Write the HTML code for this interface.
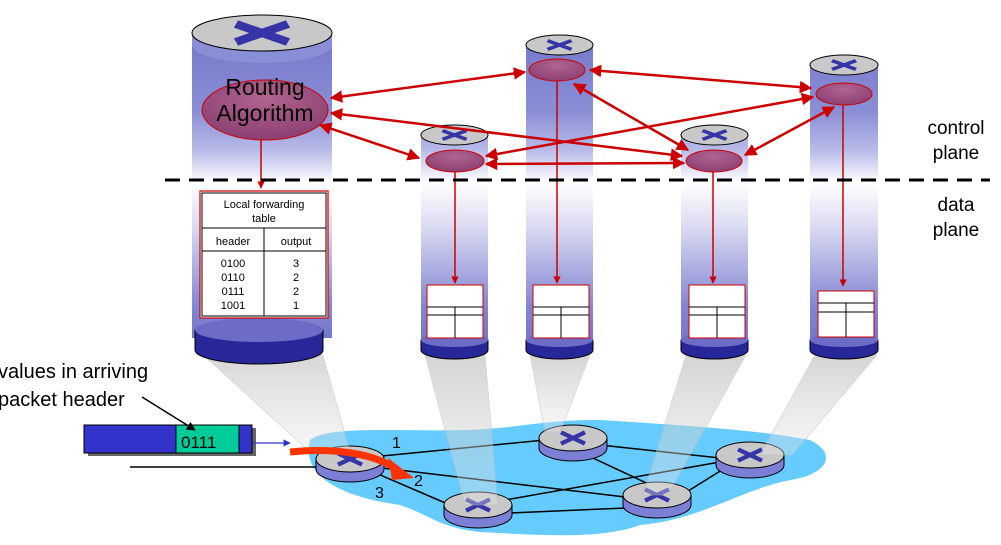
<!DOCTYPE html>
<html><head><meta charset="utf-8"><style>html,body{margin:0;padding:0;background:#fff;width:1001px;height:545px;overflow:hidden}svg{display:block}</style></head><body>
<svg width="1001" height="545" viewBox="0 0 1001 545" xmlns="http://www.w3.org/2000/svg" font-family="Liberation Sans, sans-serif">
<defs>
<linearGradient id="cyl" gradientUnits="userSpaceOnUse" x1="0" y1="30" x2="0" y2="355">
<stop offset="0" stop-color="#7377c9"/><stop offset="0.25" stop-color="#8a8ed6"/><stop offset="0.37" stop-color="#b8bbe8"/><stop offset="0.47" stop-color="#ffffff"/><stop offset="0.6" stop-color="#dcdcf2"/><stop offset="0.85" stop-color="#8386d2"/><stop offset="1" stop-color="#6e70c4"/>
</linearGradient>
<linearGradient id="cone" x1="0" y1="0" x2="0" y2="1"><stop offset="0" stop-color="#b8b8b8"/><stop offset="1" stop-color="#e8e8e8" stop-opacity="0.6"/></linearGradient>
<radialGradient id="red" cx="0.5" cy="0.3" r="0.7"><stop offset="0" stop-color="#b0648f"/><stop offset="1" stop-color="#8c3f73"/></radialGradient>
<marker id="ah" viewBox="0 0 10 10" refX="9" refY="5" markerWidth="5" markerHeight="5" orient="auto-start-reverse"><path d="M0,0L10,5L0,10z" fill="#cc0000"/></marker>
<marker id="bh" viewBox="0 0 10 10" refX="9" refY="5" markerWidth="6" markerHeight="6" orient="auto"><path d="M0,0L10,5L0,10z" fill="#3333cc"/></marker>
<marker id="kh" viewBox="0 0 10 10" refX="9" refY="5" markerWidth="6" markerHeight="6" orient="auto"><path d="M0,0L10,5L0,10z" fill="#000"/></marker>
<g id="x"><path d="M-16,-8 L16,8 M16,-8 L-16,8" stroke="#3535a8" stroke-width="6"/></g>
</defs>

<!-- cloud -->
<path d="M310,440 C330,425 400,432 470,430 C520,428 540,420 600,420 C680,425 760,430 810,440 C840,455 825,475 790,480 C740,490 700,520 640,525 C600,540 540,535 480,532 C440,528 430,515 400,505 C350,498 300,480 310,440Z" fill="#66ccff"/>

<!-- links -->
<g stroke="#000" stroke-width="1.5">
<line x1="130" y1="467" x2="318" y2="467"/>
<line x1="382" y1="456" x2="545" y2="440"/>
<line x1="382" y1="468" x2="625" y2="497"/>
<line x1="378" y1="474" x2="450" y2="505"/>
<line x1="600" y1="445" x2="720" y2="458"/>
<line x1="580" y1="452" x2="655" y2="487"/>
<line x1="505" y1="500" x2="720" y2="462"/>
<line x1="510" y1="513" x2="625" y2="508"/>
<line x1="685" y1="493" x2="725" y2="468"/>
</g>

<!-- network routers -->
<g transform="translate(350,459)"><path d="M-34,0 v10 a34,13 0 0 0 68,0 v-10z" fill="#7b7fd6" stroke="#000"/><ellipse rx="34" ry="13" fill="#c8c8c8" stroke="#000"/><g transform="scale(0.75,0.7)"><use href="#x"/></g></g>
<g transform="translate(573,438)"><path d="M-34,0 v10 a34,13 0 0 0 68,0 v-10z" fill="#7b7fd6" stroke="#000"/><ellipse rx="34" ry="13" fill="#c8c8c8" stroke="#000"/><g transform="scale(0.75,0.7)"><use href="#x"/></g></g>
<g transform="translate(750,455)"><path d="M-34,0 v10 a34,13 0 0 0 68,0 v-10z" fill="#7b7fd6" stroke="#000"/><ellipse rx="34" ry="13" fill="#c8c8c8" stroke="#000"/><g transform="scale(0.75,0.7)"><use href="#x"/></g></g>
<g transform="translate(478,505)"><path d="M-34,0 v10 a34,13 0 0 0 68,0 v-10z" fill="#7b7fd6" stroke="#000"/><ellipse rx="34" ry="13" fill="#c8c8c8" stroke="#000"/><g transform="scale(0.75,0.7)"><use href="#x"/></g></g>
<g transform="translate(657,495)"><path d="M-34,0 v10 a34,13 0 0 0 68,0 v-10z" fill="#7b7fd6" stroke="#000"/><ellipse rx="34" ry="13" fill="#c8c8c8" stroke="#000"/><g transform="scale(0.75,0.7)"><use href="#x"/></g></g>

<!-- cones (semi-transparent over routers) -->
<g fill="url(#cone)" opacity="0.6" stroke="#bbb" stroke-width="0.8">
<polygon points="200,352 322,352 350,452 310,452"/>
<polygon points="425,355 485,355 498,505 465,505"/>
<polygon points="530,355 590,355 560,432 545,432"/>
<polygon points="686,355 746,355 668,495 643,495"/>
<polygon points="815,355 877,355 792,455 760,455"/>
</g>

<!-- red flow arrow -->
<path d="M290,452 C330,448 370,452 395,468" stroke="#ff3300" stroke-width="7" fill="none"/>
<polygon points="388,458 414,478 392,480" fill="#ff3300"/>
<text x="392" y="448" font-size="16">1</text>
<text x="414" y="486" font-size="16">2</text>
<text x="375" y="498" font-size="16">3</text>

<!-- packet -->
<rect x="88" y="428" width="168" height="28" fill="#666"/>
<rect x="84" y="425" width="168" height="28" fill="#3333cc" stroke="#000"/>
<rect x="176" y="425" width="63" height="28" fill="#00cc99" stroke="#000"/>
<text x="181" y="448" font-size="17">0111</text>
<line x1="253" y1="443" x2="290" y2="443" stroke="#3333cc" stroke-width="1.2" marker-end="url(#bh)"/>
<text x="-2" y="378" font-size="20">values in arriving</text>
<text x="-2" y="406" font-size="20">packet header</text>
<line x1="142" y1="397" x2="195" y2="430" stroke="#000" stroke-width="1.5" marker-end="url(#kh)"/>

<!-- big cylinder -->
<rect x="192" y="33" width="140" height="305" fill="url(#cyl)"/>
<path d="M195,330 v20 a64,14 0 0 0 128,0 v-20z" fill="#27279a" stroke="#000"/>
<ellipse cx="259" cy="330" rx="64" ry="12" fill="#6c6cc6"/>
<path d="M192,33 v12 a70,18 0 0 0 140,0 v-12z" fill="#8a8ed6"/>
<ellipse cx="262" cy="33" rx="70" ry="18" fill="#c8c8c8" stroke="#000"/>
<g transform="translate(262,33) scale(1.3,1)"><path d="M-20,-9 L20,9 M20,-9 L-20,9" stroke="#3535a8" stroke-width="8"/></g>
<ellipse cx="265" cy="110" rx="63" ry="30" fill="url(#red)" stroke="#cc0000"/>
<text x="265" y="95" font-size="23" text-anchor="middle">Routing</text>
<text x="265" y="121" font-size="23" text-anchor="middle">Algorithm</text>
<line x1="261" y1="140" x2="261" y2="188" stroke="#cc0000" stroke-width="1.5" marker-end="url(#ah)"/>
<rect x="200" y="191" width="128" height="127" fill="#fff" stroke="#cc0000" stroke-width="1.2"/>
<rect x="202" y="193" width="124" height="123" fill="none" stroke="#000"/>
<line x1="202" y1="228" x2="326" y2="228" stroke="#000"/>
<line x1="202" y1="251" x2="326" y2="251" stroke="#000"/>
<line x1="264" y1="228" x2="264" y2="316" stroke="#000"/>
<g font-size="11" text-anchor="middle">
<text x="264" y="208">Local forwarding</text><text x="264" y="222">table</text>
<text x="233" y="245">header</text><text x="296" y="245">output</text>
<text x="233" y="267">0100</text><text x="296" y="267">3</text>
<text x="233" y="281">0110</text><text x="296" y="281">2</text>
<text x="233" y="295">0111</text><text x="296" y="295">2</text>
<text x="233" y="309">1001</text><text x="296" y="309">1</text>
</g>

<!-- small cylinders -->
<g>
<rect x="421" y="135" width="67" height="210" fill="url(#cyl)"/>
<path d="M421,340 v10 a33.5,9 0 0 0 67,0 v-10z" fill="#27279a" stroke="#000"/>
<ellipse cx="454.5" cy="340" rx="33.5" ry="7" fill="#6c6cc6"/>
<ellipse cx="454.5" cy="135" rx="33.5" ry="10" fill="#c8c8c8" stroke="#000"/>
<g transform="translate(454.5,135) scale(0.75,0.55)"><use href="#x"/></g>
</g>
<g>
<rect x="526" y="45" width="67" height="300" fill="url(#cyl)"/>
<path d="M526,340 v10 a33.5,9 0 0 0 67,0 v-10z" fill="#27279a" stroke="#000"/>
<ellipse cx="559.5" cy="340" rx="33.5" ry="7" fill="#6c6cc6"/>
<ellipse cx="559.5" cy="45" rx="33.5" ry="10" fill="#c8c8c8" stroke="#000"/>
<g transform="translate(559.5,45) scale(0.75,0.55)"><use href="#x"/></g>
</g>
<g>
<rect x="681" y="135" width="67" height="210" fill="url(#cyl)"/>
<path d="M681,340 v10 a33.5,9 0 0 0 67,0 v-10z" fill="#27279a" stroke="#000"/>
<ellipse cx="714.5" cy="340" rx="33.5" ry="7" fill="#6c6cc6"/>
<ellipse cx="714.5" cy="135" rx="33.5" ry="10" fill="#c8c8c8" stroke="#000"/>
<g transform="translate(714.5,135) scale(0.75,0.55)"><use href="#x"/></g>
</g>
<g>
<rect x="810" y="65" width="68" height="280" fill="url(#cyl)"/>
<path d="M810,340 v10 a34,9 0 0 0 68,0 v-10z" fill="#27279a" stroke="#000"/>
<ellipse cx="844" cy="340" rx="34" ry="7" fill="#6c6cc6"/>
<ellipse cx="844" cy="65" rx="34" ry="10" fill="#c8c8c8" stroke="#000"/>
<g transform="translate(844,65) scale(0.75,0.55)"><use href="#x"/></g>
</g>

<!-- red ellipses -->
<g fill="url(#red)" stroke="#cc0000">
<ellipse cx="455" cy="161" rx="29" ry="11"/>
<ellipse cx="557" cy="70" rx="28" ry="11"/>
<ellipse cx="714" cy="161" rx="28" ry="11"/>
<ellipse cx="844" cy="94" rx="28" ry="11"/>
</g>
<!-- small tables -->
<g fill="#fff" stroke="#cc0000">
<rect x="427" y="285" width="56" height="53"/>
<rect x="533" y="285" width="56" height="53"/>
<rect x="689" y="285" width="56" height="53"/>
<rect x="818" y="291" width="56" height="46"/>
</g>
<g stroke="#000">
<path d="M427,307h56M427,315h56M455,307v31"/>
<path d="M533,307h56M533,315h56M561,307v31"/>
<path d="M689,307h56M689,315h56M717,307v31"/>
<path d="M818,303h56M818,312h56M846,303v34"/>
</g>
<g stroke="#cc0000" stroke-width="1.5" marker-end="url(#ah)">
<line x1="455" y1="172" x2="455" y2="283"/>
<line x1="557" y1="81" x2="557" y2="283"/>
<line x1="713" y1="172" x2="713" y2="283"/>
<line x1="843" y1="105" x2="843" y2="286"/>
</g>

<!-- dashed line -->
<line x1="165" y1="180" x2="990" y2="180" stroke="#000" stroke-width="3" stroke-dasharray="15,9"/>
<g font-size="19" text-anchor="middle">
<text x="956" y="134">control</text><text x="956" y="159">plane</text>
<text x="956" y="211">data</text><text x="956" y="236">plane</text>
</g>

<!-- control arrows -->
<g stroke="#cc0000" stroke-width="2.5" fill="none" marker-start="url(#ah)" marker-end="url(#ah)">
<line x1="331" y1="98" x2="525" y2="72"/>
<line x1="331" y1="113" x2="682" y2="156"/>
<line x1="320" y1="125" x2="419" y2="158"/>
<line x1="590" y1="70" x2="811" y2="88"/>
<line x1="574" y1="84" x2="688" y2="150"/>
<line x1="486" y1="156" x2="813" y2="97"/>
<line x1="486" y1="164" x2="684" y2="163"/>
<line x1="745" y1="155" x2="834" y2="107"/>
</g>
</svg>
</body></html>
